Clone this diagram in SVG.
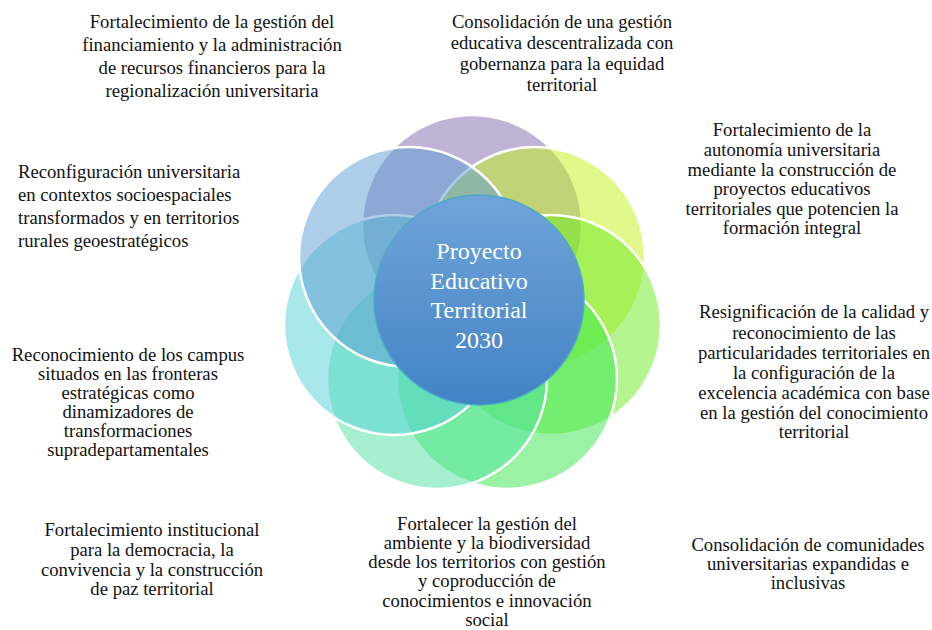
<svg xmlns="http://www.w3.org/2000/svg" width="932" height="630" viewBox="0 0 932 630">
<defs>
<linearGradient id="gc" x1="0" y1="0" x2="0" y2="1">
<stop offset="0" stop-color="#70a4d9"/>
<stop offset="1" stop-color="#4283c5"/>
</linearGradient>
<style>
.oc{fill-opacity:0.5;stroke:#ffffff;stroke-width:2.5}
.lb{font-family:"Liberation Serif","Times New Roman",serif;font-size:18.67px;fill:#111111}
.ct{text-anchor:middle}
.cn{font-family:"Liberation Serif","Times New Roman",serif;font-size:24px;fill:#ffffff;text-anchor:middle}
</style>
</defs>
<rect width="932" height="630" fill="#ffffff"/>
<g id="connectors"/>
<g id="circle-purple"><circle class="oc" cx="472" cy="225" r="110" fill="#8167ad"/></g>
<g id="circle-yellow"><circle class="oc" cx="535" cy="257" r="110" fill="#c1f315"/></g>
<g id="circle-lightgreen"><circle class="oc" cx="551" cy="325" r="110" fill="#6beb21"/></g>
<g id="circle-green"><circle class="oc" cx="507" cy="379" r="110" fill="#35e54b"/></g>
<g id="circle-mint"><circle class="oc" cx="437" cy="379" r="110" fill="#4de1a1"/></g>
<g id="circle-cyan"><circle class="oc" cx="394" cy="325" r="110" fill="#51d1d5"/></g>
<g id="circle-blue"><circle class="oc" cx="409" cy="257" r="110" fill="#5d9bd1"/></g>
<g id="center">
<circle cx="479" cy="300" r="105" fill="url(#gc)" stroke="#4aaac8" stroke-width="1.5"/>
<text class="cn"><tspan x="479" y="259">Proyecto</tspan><tspan x="479" y="288.5">Educativo</tspan><tspan x="479" y="318">Territorial</tspan><tspan x="479" y="347.5">2030</tspan></text>
</g>
<g id="label-financiamiento"><text class="lb ct"><tspan x="212" y="28">Fortalecimiento de la gestión del</tspan><tspan x="212" y="51">financiamiento y la administración</tspan><tspan x="212" y="74">de recursos financieros para la</tspan><tspan x="212" y="97">regionalización universitaria</tspan></text></g>
<g id="label-gestion"><text class="lb ct"><tspan x="562" y="28">Consolidación de una gestión</tspan><tspan x="562" y="49">educativa descentralizada con</tspan><tspan x="562" y="70">gobernanza para la equidad</tspan><tspan x="562" y="91">territorial</tspan></text></g>
<g id="label-autonomia"><text class="lb ct"><tspan x="792" y="136">Fortalecimiento de la</tspan><tspan x="792" y="156">autonomía universitaria</tspan><tspan x="792" y="175.5">mediante la construcción de</tspan><tspan x="792" y="195">proyectos educativos</tspan><tspan x="792" y="214.5">territoriales que potencien la</tspan><tspan x="792" y="234">formación integral</tspan></text></g>
<g id="label-calidad"><text class="lb ct"><tspan x="814" y="318">Resignificación de la calidad y</tspan><tspan x="814" y="338.5">reconocimiento de las</tspan><tspan x="814" y="359">particularidades territoriales en</tspan><tspan x="814" y="379">la configuración de la</tspan><tspan x="814" y="399">excelencia académica con base</tspan><tspan x="814" y="418.5">en la gestión del conocimiento</tspan><tspan x="814" y="438">territorial</tspan></text></g>
<g id="label-comunidades"><text class="lb ct"><tspan x="808" y="551">Consolidación de comunidades</tspan><tspan x="808" y="570">universitarias expandidas e</tspan><tspan x="808" y="589">inclusivas</tspan></text></g>
<g id="label-ambiente"><text class="lb ct"><tspan x="487" y="529.5">Fortalecer la gestión del</tspan><tspan x="487" y="548.8">ambiente y la biodiversidad</tspan><tspan x="487" y="568.1">desde los territorios con gestión</tspan><tspan x="487" y="587.4">y coproducción de</tspan><tspan x="487" y="606.7">conocimientos e innovación</tspan><tspan x="487" y="626">social</tspan></text></g>
<g id="label-democracia"><text class="lb ct"><tspan x="152" y="536">Fortalecimiento institucional</tspan><tspan x="152" y="556">para la democracia, la</tspan><tspan x="152" y="576">convivencia y la construcción</tspan><tspan x="152" y="595">de paz territorial</tspan></text></g>
<g id="label-campus"><text class="lb ct"><tspan x="128" y="361">Reconocimiento de los campus</tspan><tspan x="128" y="380">situados en las fronteras</tspan><tspan x="128" y="399">estratégicas como</tspan><tspan x="128" y="418">dinamizadores de</tspan><tspan x="128" y="437">transformaciones</tspan><tspan x="128" y="456">supradepartamentales</tspan></text></g>
<g id="label-reconfiguracion"><text class="lb"><tspan x="18" y="178">Reconfiguración universitaria</tspan><tspan x="18" y="201">en contextos socioespaciales</tspan><tspan x="18" y="224">transformados y en territorios</tspan><tspan x="18" y="247">rurales geoestratégicos</tspan></text></g>
</svg>
